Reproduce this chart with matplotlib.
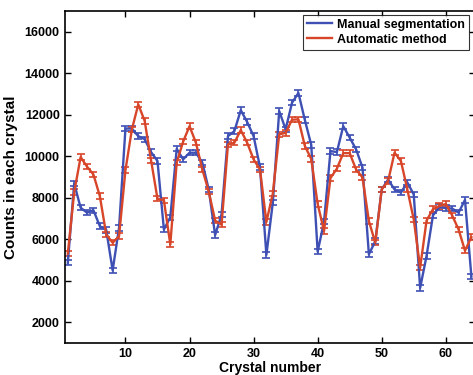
import numpy as np
import matplotlib
matplotlib.use("Agg")
import matplotlib.pyplot as plt
from matplotlib.lines import Line2D

# crystal index and counts
crystal = list(range(1, 65))

manual = [4870, 8680, 7520, 7280, 7400, 6630, 6450, 4500, 6550, 11340,
          11330, 10970, 10820, 10200, 9770, 6470, 7060, 10360, 9850, 10170,
          10170, 9690, 8400, 6200, 7200, 10970, 11210, 12220, 11650, 10970,
          9480, 5250, 7760, 12180, 11300, 12580, 13050, 11750, 10550, 5400,
          6850, 10250, 10200, 11450, 10900, 10330, 9460, 5270, 5910, 8400,
          8880, 8400, 8250, 8740, 8160, 3650, 5200, 7150, 7550, 7500,
          7480, 7280, 7900, 4200]

automatic = [5310, 8270, 9960, 9500, 9120, 8080, 6230, 5830, 6150, 9330,
             11290, 12500, 11700, 9800, 7950, 7880, 5750, 9700, 10700, 11450,
             10650, 9365, 8300, 6900, 6700, 10570, 10650, 11260, 10650, 9850,
             9365, 6830, 8200, 11050, 11130, 11760, 11780, 10500, 9870, 7700,
             6400, 8950, 9400, 10150, 10150, 9365, 8980, 6875, 5830, 8400,
             8810, 10170, 9770, 8400, 6955, 4630, 6900, 7450, 7600, 7700,
             7150, 6470, 5450, 6100]

err = 130  # half-height of the small error bars

xticks = [10, 20, 30, 40, 50, 60]
yticks = [2000, 4000, 6000, 8000, 10000, 12000, 14000, 16000]

plt.rcParams['font.family'] = ['Liberation Sans', 'DejaVu Sans']
plt.rcParams['font.weight'] = 'bold'

fig = plt.figure(figsize=(4.73, 3.75), dpi=100)
ax = fig.add_axes([64.6 / 473, 32 / 375, 410 / 473, 332 / 375])

blue = "#3e50b4"
red = "#d8462a"
ax.errorbar(crystal, manual, yerr=err, color=blue, lw=1.7, capsize=2.8,
            elinewidth=1.2, capthick=1.2)
ax.errorbar(crystal, automatic, yerr=err, color=red, lw=1.7, capsize=2.8,
            elinewidth=1.2, capthick=1.2)

ax.set_xlim(0.5, 64.5)
ax.set_ylim(1000, 17000)
ax.set_xticks(xticks)
ax.set_yticks(yticks)
ax.tick_params(direction="in", top=True, right=True, labelsize=9, length=4, width=1)
for lab in ax.get_xticklabels() + ax.get_yticklabels():
    lab.set_fontweight("bold")
for sp in ax.spines.values():
    sp.set_linewidth(1.2)

ax.set_xlabel("Crystal number", fontsize=10, fontweight="bold", labelpad=0.5)
ax.set_ylabel("Counts in each crystal", fontsize=11, fontweight="bold", labelpad=5)

handles = [Line2D([], [], color=blue, lw=1.7), Line2D([], [], color=red, lw=1.7)]
leg = ax.legend(handles, ["Manual segmentation", "Automatic method"],
                loc="upper right", bbox_to_anchor=(0.986, 0.988), fontsize=9,
                frameon=True, fancybox=False, edgecolor="black", borderpad=0.3,
                handlelength=2.0, handletextpad=0.4, labelspacing=0.25,
                borderaxespad=0.0)
leg.get_frame().set_linewidth(0.8)

fig.savefig("out.png", dpi=100)
